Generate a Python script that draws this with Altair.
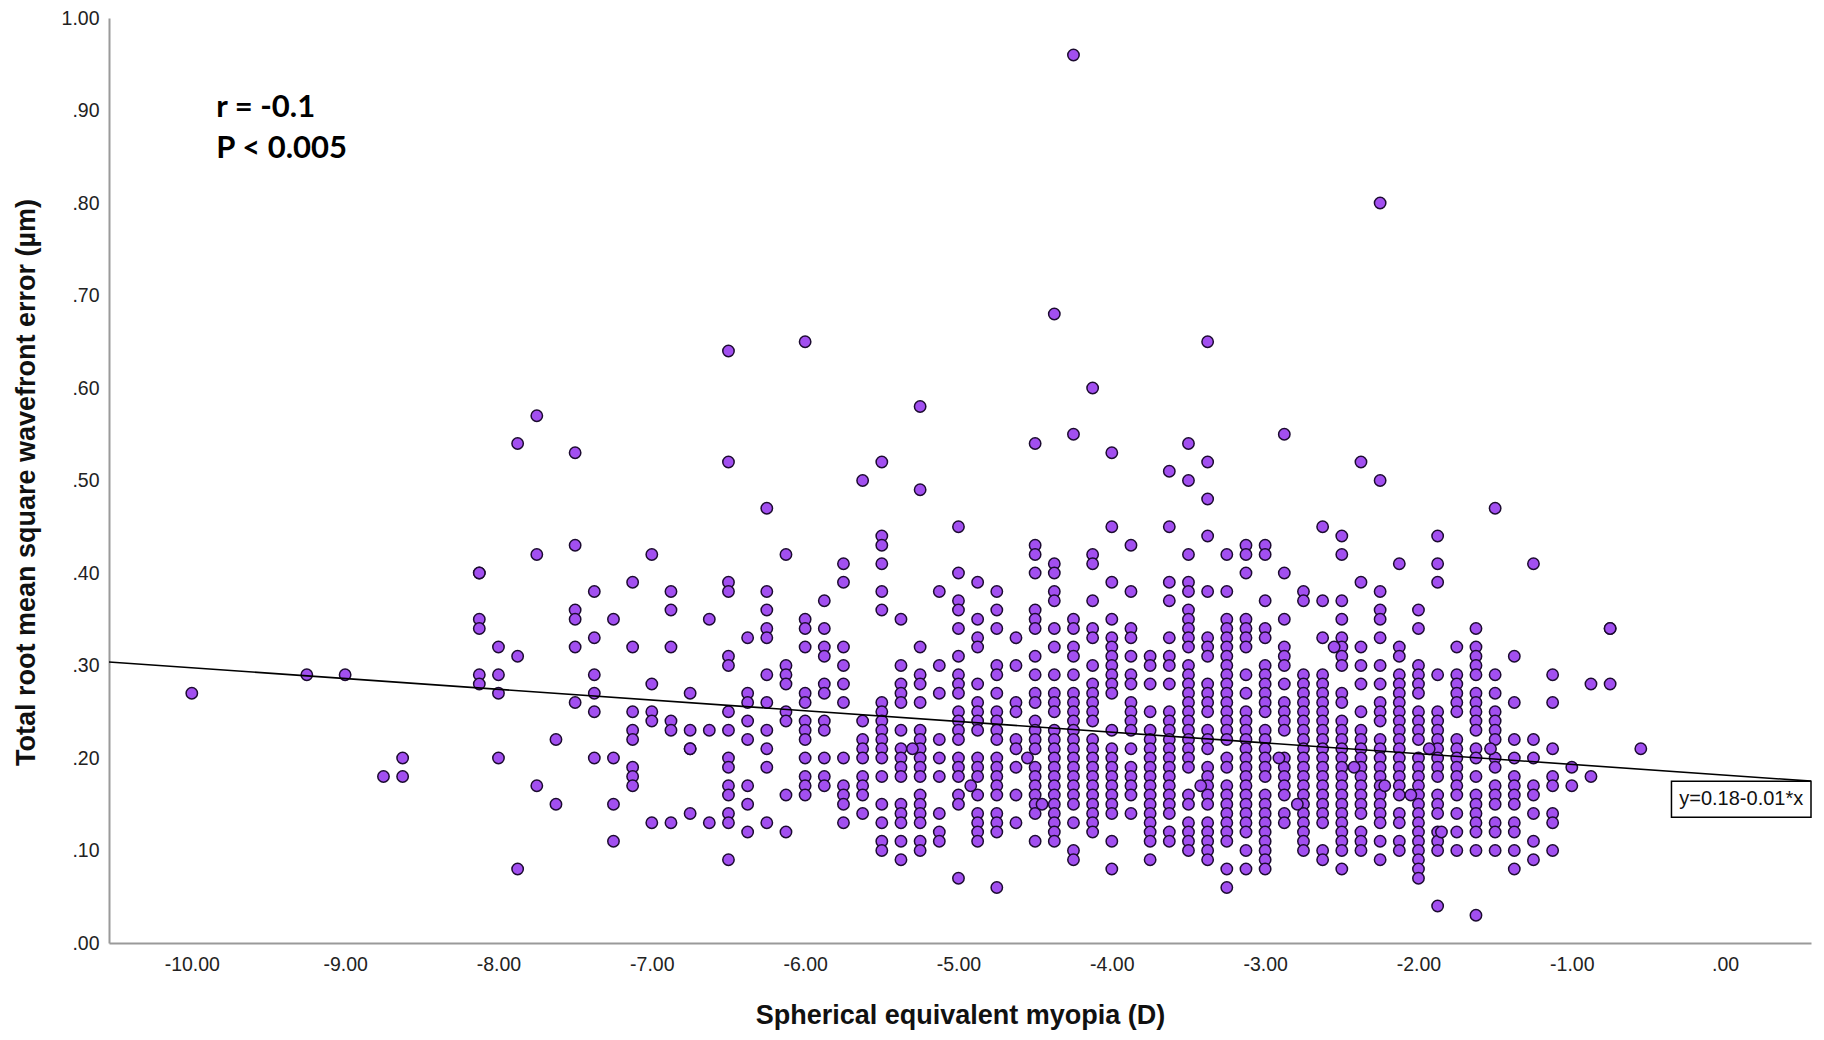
import altair as alt
import pandas as pd

# ---- data ----
col_x = [-10.0, -9.25, -9.0, -8.75, -8.625, -8.125, -8.0, -7.875, -7.75, -7.625,
         -7.5, -7.375, -7.25, -7.125, -7.0, -6.875, -6.75, -6.625, -6.5, -6.375,
         -6.25, -6.125, -6.0, -5.875, -5.75, -5.625, -5.5, -5.375, -5.25, -5.125,
         -5.0, -4.875, -4.75, -4.625, -4.5, -4.375, -4.25, -4.125, -4.0, -3.875,
         -3.75, -3.625, -3.5, -3.375, -3.25, -3.125, -3.0, -2.875, -2.75, -2.625,
         -2.5, -2.375, -2.25, -2.125, -2.0, -1.875, -1.75, -1.625, -1.5, -1.375,
         -1.25, -1.125, -1.0, -0.875, -0.75, -0.55]

col_y = [
    [0.27],
    [0.29],
    [0.29],
    [0.18],
    [0.20, 0.18],
    [0.40, 0.40, 0.35, 0.34, 0.29, 0.28],
    [0.32, 0.29, 0.27, 0.20],
    [0.54, 0.31, 0.08],
    [0.57, 0.42, 0.17],
    [0.22, 0.15],
    [0.53, 0.43, 0.36, 0.35, 0.32, 0.26],
    [0.38, 0.33, 0.29, 0.27, 0.25, 0.20],
    [0.35, 0.20, 0.15, 0.11],
    [0.39, 0.32, 0.25, 0.23, 0.22, 0.19, 0.18, 0.17],
    [0.42, 0.28, 0.25, 0.24, 0.13],
    [0.38, 0.36, 0.32, 0.24, 0.23, 0.13],
    [0.27, 0.23, 0.21, 0.21, 0.14],
    [0.35, 0.23, 0.13],
    [0.64, 0.52, 0.39, 0.38, 0.31, 0.30, 0.25, 0.23, 0.20, 0.19, 0.17, 0.16, 0.14, 0.13, 0.09],
    [0.33, 0.27, 0.26, 0.24, 0.22, 0.17, 0.15, 0.12],
    [0.47, 0.38, 0.36, 0.34, 0.33, 0.29, 0.26, 0.23, 0.21, 0.19, 0.13],
    [0.42, 0.30, 0.29, 0.28, 0.25, 0.24, 0.16, 0.12],
    [0.65, 0.35, 0.34, 0.32, 0.27, 0.26, 0.24, 0.23, 0.22, 0.20, 0.18, 0.17, 0.16],
    [0.37, 0.34, 0.32, 0.31, 0.28, 0.27, 0.24, 0.23, 0.20, 0.18, 0.17],
    [0.41, 0.39, 0.32, 0.30, 0.28, 0.26, 0.20, 0.17, 0.16, 0.15, 0.13],
    [0.50, 0.24, 0.22, 0.21, 0.20, 0.18, 0.17, 0.16, 0.14],
    [0.52, 0.44, 0.43, 0.41, 0.38, 0.36, 0.26, 0.25, 0.24, 0.23, 0.22, 0.21, 0.20, 0.18, 0.15, 0.13, 0.11, 0.10],
    [0.35, 0.30, 0.28, 0.27, 0.26, 0.23, 0.21, 0.20, 0.19, 0.18, 0.15, 0.14, 0.13, 0.11, 0.09],
    [0.58, 0.49, 0.32, 0.29, 0.28, 0.26, 0.23, 0.22, 0.21, 0.20, 0.19, 0.18, 0.16, 0.15, 0.14, 0.13, 0.11, 0.10],
    [0.38, 0.30, 0.27, 0.22, 0.20, 0.18, 0.14, 0.12, 0.11],
    [0.45, 0.40, 0.37, 0.36, 0.34, 0.31, 0.29, 0.28, 0.27, 0.25, 0.24, 0.23, 0.22, 0.20, 0.19, 0.18, 0.16, 0.15, 0.07],
    [0.39, 0.35, 0.33, 0.32, 0.28, 0.26, 0.25, 0.24, 0.23, 0.20, 0.19, 0.18, 0.16, 0.14, 0.13, 0.12, 0.11],
    [0.38, 0.36, 0.34, 0.30, 0.29, 0.27, 0.25, 0.24, 0.23, 0.22, 0.20, 0.19, 0.18, 0.17, 0.16, 0.14, 0.13, 0.12, 0.06],
    [0.33, 0.30, 0.26, 0.25, 0.22, 0.21, 0.19, 0.16, 0.13],
    [0.54, 0.43, 0.42, 0.40, 0.36, 0.35, 0.34, 0.31, 0.29, 0.27, 0.26, 0.24, 0.23, 0.22, 0.21, 0.19, 0.18, 0.17, 0.16, 0.15, 0.14, 0.11],
    [0.68, 0.41, 0.40, 0.38, 0.37, 0.34, 0.32, 0.29, 0.27, 0.26, 0.25, 0.23, 0.22, 0.21, 0.20, 0.19, 0.18, 0.17, 0.16, 0.15, 0.14, 0.13, 0.12, 0.11],
    [0.96, 0.55, 0.35, 0.34, 0.32, 0.31, 0.29, 0.27, 0.26, 0.25, 0.24, 0.23, 0.22, 0.21, 0.20, 0.19, 0.18, 0.17, 0.16, 0.15, 0.13, 0.10, 0.09],
    [0.60, 0.42, 0.41, 0.37, 0.34, 0.33, 0.30, 0.28, 0.27, 0.26, 0.25, 0.24, 0.22, 0.21, 0.20, 0.19, 0.18, 0.17, 0.16, 0.15, 0.14, 0.13, 0.12],
    [0.53, 0.45, 0.39, 0.35, 0.33, 0.32, 0.31, 0.30, 0.29, 0.28, 0.27, 0.23, 0.21, 0.20, 0.19, 0.18, 0.17, 0.16, 0.15, 0.14, 0.11, 0.08],
    [0.43, 0.38, 0.34, 0.33, 0.31, 0.29, 0.28, 0.26, 0.25, 0.24, 0.23, 0.21, 0.19, 0.18, 0.17, 0.16, 0.14],
    [0.31, 0.30, 0.28, 0.25, 0.23, 0.22, 0.21, 0.20, 0.19, 0.18, 0.17, 0.16, 0.15, 0.14, 0.13, 0.12, 0.11, 0.09],
    [0.51, 0.45, 0.39, 0.37, 0.33, 0.31, 0.30, 0.28, 0.25, 0.24, 0.23, 0.22, 0.21, 0.20, 0.19, 0.18, 0.17, 0.16, 0.15, 0.14, 0.12, 0.11],
    [0.54, 0.50, 0.42, 0.39, 0.38, 0.36, 0.35, 0.34, 0.33, 0.32, 0.30, 0.29, 0.28, 0.27, 0.26, 0.25, 0.24, 0.23, 0.22, 0.21, 0.20, 0.19, 0.16, 0.15, 0.13, 0.12, 0.11, 0.10],
    [0.65, 0.52, 0.48, 0.44, 0.38, 0.33, 0.32, 0.31, 0.28, 0.27, 0.26, 0.25, 0.23, 0.22, 0.21, 0.19, 0.18, 0.17, 0.16, 0.15, 0.13, 0.12, 0.11, 0.10, 0.09],
    [0.42, 0.38, 0.35, 0.34, 0.33, 0.32, 0.31, 0.30, 0.29, 0.28, 0.27, 0.26, 0.25, 0.24, 0.23, 0.22, 0.20, 0.19, 0.17, 0.16, 0.15, 0.14, 0.13, 0.12, 0.11, 0.08, 0.06],
    [0.43, 0.42, 0.40, 0.35, 0.34, 0.33, 0.32, 0.29, 0.27, 0.25, 0.24, 0.23, 0.22, 0.21, 0.20, 0.19, 0.18, 0.17, 0.16, 0.15, 0.14, 0.13, 0.12, 0.10, 0.08],
    [0.43, 0.42, 0.37, 0.34, 0.33, 0.30, 0.29, 0.28, 0.27, 0.26, 0.25, 0.23, 0.22, 0.21, 0.20, 0.19, 0.18, 0.16, 0.15, 0.14, 0.13, 0.12, 0.11, 0.10, 0.09, 0.08],
    [0.55, 0.40, 0.35, 0.32, 0.31, 0.30, 0.28, 0.26, 0.25, 0.24, 0.23, 0.20, 0.19, 0.18, 0.17, 0.16, 0.14, 0.13],
    [0.38, 0.37, 0.29, 0.28, 0.27, 0.26, 0.25, 0.24, 0.23, 0.22, 0.21, 0.20, 0.19, 0.18, 0.17, 0.16, 0.15, 0.14, 0.13, 0.12, 0.11, 0.10],
    [0.45, 0.37, 0.33, 0.29, 0.28, 0.27, 0.26, 0.25, 0.24, 0.23, 0.22, 0.21, 0.20, 0.19, 0.18, 0.17, 0.16, 0.15, 0.14, 0.13, 0.10, 0.09],
    [0.44, 0.42, 0.37, 0.35, 0.33, 0.32, 0.31, 0.30, 0.27, 0.26, 0.24, 0.23, 0.22, 0.21, 0.20, 0.19, 0.18, 0.17, 0.16, 0.15, 0.14, 0.13, 0.12, 0.11, 0.10, 0.08],
    [0.52, 0.39, 0.32, 0.30, 0.28, 0.25, 0.23, 0.22, 0.21, 0.20, 0.19, 0.18, 0.17, 0.16, 0.15, 0.14, 0.12, 0.11, 0.10],
    [0.80, 0.50, 0.38, 0.36, 0.35, 0.33, 0.30, 0.28, 0.26, 0.25, 0.24, 0.22, 0.21, 0.20, 0.19, 0.18, 0.17, 0.16, 0.15, 0.14, 0.13, 0.11, 0.09],
    [0.41, 0.32, 0.31, 0.29, 0.28, 0.27, 0.26, 0.25, 0.24, 0.23, 0.22, 0.21, 0.20, 0.19, 0.18, 0.17, 0.16, 0.14, 0.13, 0.11, 0.10],
    [0.36, 0.34, 0.30, 0.29, 0.28, 0.27, 0.25, 0.24, 0.23, 0.22, 0.20, 0.19, 0.18, 0.17, 0.16, 0.15, 0.14, 0.13, 0.12, 0.11, 0.10, 0.09, 0.08, 0.07],
    [0.44, 0.41, 0.39, 0.29, 0.25, 0.24, 0.23, 0.22, 0.21, 0.20, 0.19, 0.18, 0.16, 0.15, 0.14, 0.12, 0.11, 0.10, 0.04],
    [0.32, 0.29, 0.28, 0.27, 0.26, 0.25, 0.22, 0.21, 0.20, 0.19, 0.18, 0.17, 0.16, 0.14, 0.12, 0.10],
    [0.34, 0.32, 0.31, 0.30, 0.29, 0.27, 0.26, 0.25, 0.24, 0.23, 0.21, 0.20, 0.18, 0.16, 0.15, 0.14, 0.13, 0.12, 0.10, 0.03],
    [0.47, 0.29, 0.27, 0.25, 0.24, 0.23, 0.22, 0.20, 0.19, 0.17, 0.16, 0.15, 0.13, 0.12, 0.10],
    [0.31, 0.26, 0.22, 0.20, 0.18, 0.17, 0.16, 0.15, 0.13, 0.12, 0.10, 0.08],
    [0.41, 0.22, 0.20, 0.17, 0.16, 0.14, 0.11, 0.09],
    [0.29, 0.26, 0.21, 0.18, 0.17, 0.14, 0.13, 0.10],
    [0.19, 0.17],
    [0.28, 0.18],
    [0.34, 0.34, 0.28],
    [0.21],
]

# a few points that sit between the usual 0.125 D steps
extra_x = [-5.30, -4.92, -4.55, -4.455, -3.42, -2.91, -2.79, -2.55, -2.42, -2.22, -2.05, -1.93, -1.85, -1.53]
extra_y = [0.21, 0.17, 0.20, 0.15, 0.17, 0.20, 0.15, 0.32, 0.19, 0.17, 0.16, 0.21, 0.12, 0.21]

# fit line printed on the chart (y = 0.18 - 0.01*x, unrounded coefficients)
fit_intercept = 0.1815
fit_slope = -0.0116

x_domain = [-10.54, 0.56]
y_domain = [0.0, 1.0]
x_ticks = [-10, -9, -8, -7, -6, -5, -4, -3, -2, -1, 0]
y_ticks = [0.0, 0.1, 0.2, 0.3, 0.4, 0.5, 0.6, 0.7, 0.8, 0.9, 1.0]

stat_lines = ["r = -0.1", "P < 0.005"]
stat_x = [-9.84, -9.84]
stat_y = [0.903, 0.858]

eq_label = "y=0.18-0.01*x"
eq_box_x = [-0.35, 0.56]
eq_box_y = [0.136, 0.175]

# ---- tables ----
rows = []
for cx, ys in zip(col_x, col_y):
    for v in ys:
        rows.append({"x": cx, "y": v})
for ex, ey in zip(extra_x, extra_y):
    rows.append({"x": ex, "y": ey})
pts = pd.DataFrame(rows)

line_df = pd.DataFrame({
    "x": x_domain,
    "y": [fit_intercept + fit_slope * v for v in x_domain],
})
stat_df = pd.DataFrame({"x": stat_x, "y": stat_y, "t": stat_lines})
box_df = pd.DataFrame({"x": [eq_box_x[0]], "x2": [eq_box_x[1]],
                       "y": [eq_box_y[0]], "y2": [eq_box_y[1]],
                       "xm": [(eq_box_x[0] + eq_box_x[1]) / 2],
                       "ym": [(eq_box_y[0] + eq_box_y[1]) / 2],
                       "t": [eq_label]})

FONT = "Liberation Sans"

xscale = alt.Scale(domain=x_domain, nice=False, zero=False)
yscale = alt.Scale(domain=y_domain, nice=False)

x_axis = alt.Axis(
    values=x_ticks,
    labelExpr="datum.value == 0 ? '.00' : (datum.value < 0 ? '-' + format(-datum.value, '.2f') : format(datum.value, '.2f'))",
    ticks=False, grid=False, domainColor="#9a9a9a", domainWidth=2,
    labelFont=FONT, labelFontSize=19.5, labelColor="#222222", labelPadding=12,
    title="Spherical equivalent myopia (D)", titleFont=FONT, titleFontSize=27,
    titleFontWeight="bold", titleColor="#111111",
    titleX=851, titleY=72, titleBaseline="middle", titleAlign="center",
)
y_axis = alt.Axis(
    values=y_ticks,
    labelExpr="datum.value >= 1 ? format(datum.value, '.2f') : replace(format(datum.value, '.2f'), '0.', '.')",
    ticks=False, grid=False, domainColor="#9a9a9a", domainWidth=2,
    labelFont=FONT, labelFontSize=19.5, labelColor="#222222", labelPadding=10,
    title="Total root mean square wavefront error (\u00b5m)", titleFont=FONT,
    titleFontSize=27, titleFontWeight="bold", titleColor="#111111",
    titleAngle=-90, titleX=-83, titleY=464, titleBaseline="middle", titleAlign="center",
)

points = alt.Chart(pts).mark_circle(
    size=130, color="#a24ff0", opacity=1, stroke="#1c0b30", strokeWidth=1.5
).encode(
    x=alt.X("x:Q", scale=xscale, axis=x_axis),
    y=alt.Y("y:Q", scale=yscale, axis=y_axis),
)

fit = alt.Chart(line_df).mark_line(color="#000000", strokeWidth=1.6).encode(
    x=alt.X("x:Q", scale=xscale), y=alt.Y("y:Q", scale=yscale)
)

box = alt.Chart(box_df).mark_rect(fill="white", stroke="black", strokeWidth=1.5).encode(
    x=alt.X("x:Q", scale=xscale), x2="x2:Q",
    y=alt.Y("y:Q", scale=yscale), y2="y2:Q",
)
box_text = alt.Chart(box_df).mark_text(
    font=FONT, fontSize=20, color="#111111", align="center", baseline="middle"
).encode(x=alt.X("xm:Q", scale=xscale), y=alt.Y("ym:Q", scale=yscale), text="t:N")

stats = alt.Chart(stat_df).mark_text(
    font="Lato", fontSize=31, fontWeight="bold", color="#000000",
    align="left", baseline="middle"
).encode(x=alt.X("x:Q", scale=xscale), y=alt.Y("y:Q", scale=yscale), text="t:N")

chart = alt.layer(points, fit, box, box_text, stats).properties(
    width=1702, height=925,
    autosize=alt.AutoSizeParams(type="none"),
    padding={"left": 101, "top": 10, "right": 5, "bottom": 89},
    background="white",
).configure_view(strokeWidth=0)

chart.save("out.html", embed_options={"renderer": "svg", "actions": False})
